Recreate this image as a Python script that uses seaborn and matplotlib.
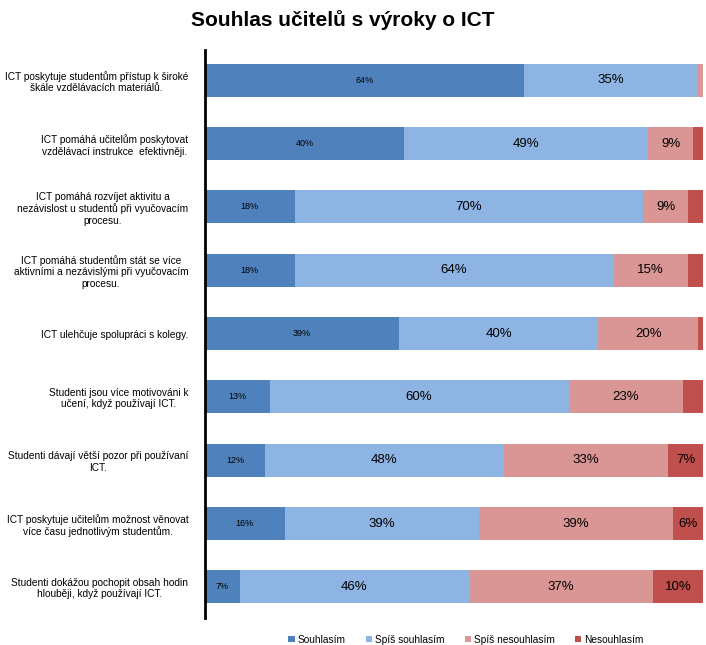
import numpy as np
import pandas as pd
import matplotlib
matplotlib.use("Agg")
import matplotlib.pyplot as plt
import seaborn as sns
from matplotlib.patches import Patch

statements = [
    "ICT poskytuje studentům přístup k široké\nškále vzdělávacích materiálů.",
    "ICT pomáhá učitelům poskytovat\nvzdělávací instrukce  efektivněji.",
    "ICT pomáhá rozvíjet aktivitu a\nnezávislost u studentů při vyučovacím\nprocesu.",
    "ICT pomáhá studentům stát se více\naktivními a nezávislými při vyučovacím\nprocesu.",
    "ICT ulehčuje spolupráci s kolegy.",
    "Studenti jsou více motivováni k\nučení, když používají ICT.",
    "Studenti dávají větší pozor při používaní\nICT.",
    "ICT poskytuje učitelům možnost věnovat\nvíce času jednotlivým studentům.",
    "Studenti dokážou pochopit obsah hodin\nhlouběji, když používají ICT.",
]
answers = ["Souhlasím", "Spíš souhlasím", "Spíš nesouhlasím", "Nesouhlasím"]
souhlasim = [64, 40, 18, 18, 39, 13, 12, 16, 7]
spis_souhlasim = [35, 49, 70, 64, 40, 60, 48, 39, 46]
spis_nesouhlasim = [1, 9, 9, 15, 20, 23, 33, 39, 37]
nesouhlasim = [0, 2, 3, 3, 1, 4, 7, 6, 10]
colors = ["#4F81BD", "#8EB4E3", "#D99694", "#C0504D"]

sns.set_style("white")
plt.rcParams["font.family"] = ["Liberation Sans", "DejaVu Sans"]
plt.rcParams["text.color"] = "black"
plt.rcParams["ytick.color"] = "black"

values = np.array([souhlasim, spis_souhlasim, spis_nesouhlasim, nesouhlasim], dtype=float)
cum = values.cumsum(axis=0)

fig = plt.figure(figsize=(7.06, 6.45), dpi=100)
ax = fig.add_axes([0.2904, 0.042, 0.7054, 0.880])

# overlay cumulative totals, longest first
for i in range(3, -1, -1):
    df = pd.DataFrame({"statement": statements, "total": cum[i]})
    sns.barplot(data=df, x="total", y="statement", orient="h", color=colors[i],
                width=0.52, saturation=1, ax=ax, linewidth=0)

for i in range(4):
    for j in range(len(statements)):
        v = values[i, j]
        if v < 5:
            continue
        x = cum[i, j] - v / 2
        size = 6.5 if i == 0 else 9.5
        ax.text(x, j, f"{int(v)}%", ha="center", va="center", fontsize=size, color="black")

ax.set_xlim(0, 100)
ax.set_ylim(8.49, -0.473)
ax.set_xlabel("")
ax.set_ylabel("")
ax.set_xticks([])
ax.tick_params(axis="y", length=0, pad=12, labelsize=7.3)
for lbl in ax.get_yticklabels():
    lbl.set_multialignment("center")
for s in ["top", "right", "bottom"]:
    ax.spines[s].set_visible(False)
ax.spines["left"].set_linewidth(2)
ax.spines["left"].set_color("black")

fig.text(0.486, 0.985, "Souhlas učitelů s výroky o ICT", ha="center", va="top",
         fontsize=15, fontweight="bold")

handles = [Patch(facecolor=c, edgecolor="none") for c in colors]
fig.legend(handles, answers, loc="center", bbox_to_anchor=(0.66, 0.008), ncol=4,
           frameon=False, fontsize=7.3, handlelength=0.6, handleheight=0.6,
           handletextpad=0.3, columnspacing=2.0)

fig.savefig("out.png", dpi=100)
